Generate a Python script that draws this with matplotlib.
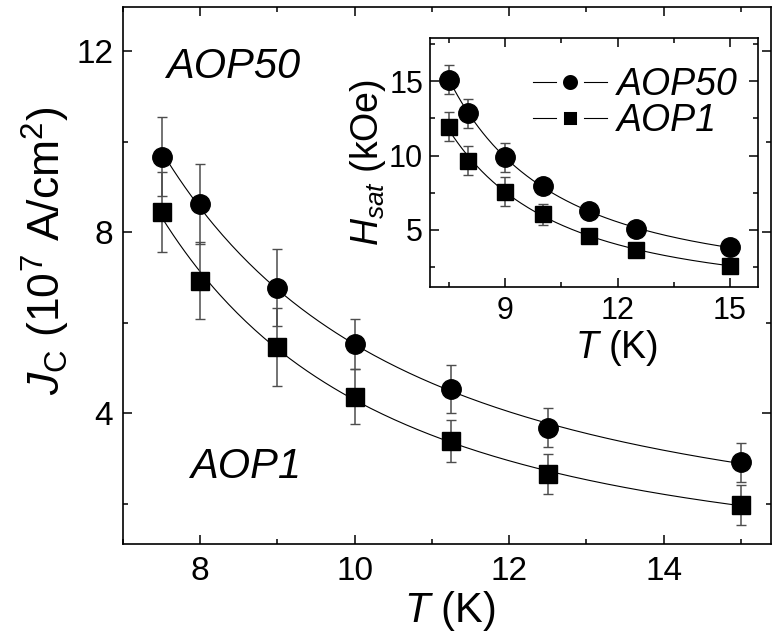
import numpy as np
import matplotlib
matplotlib.use('Agg')
import matplotlib.pyplot as plt
from matplotlib.ticker import MultipleLocator

plt.rcParams['font.family'] = ['Liberation Sans', 'DejaVu Sans']
plt.rcParams['mathtext.fontset'] = 'custom'
plt.rcParams['mathtext.rm'] = 'Liberation Sans'
plt.rcParams['mathtext.it'] = 'Liberation Sans:italic'

# --- data ---
T = [7.5, 8, 9, 10, 11.25, 12.5, 15]

# main panel: Jc (10^7 A/cm^2)
jc_aop50 = [9.67, 8.62, 6.78, 5.53, 4.54, 3.69, 2.92]
jc_aop50_err = [0.87, 0.89, 0.86, 0.55, 0.52, 0.44, 0.43]
jc_aop1 = [8.45, 6.93, 5.46, 4.37, 3.39, 2.66, 1.98]
jc_aop1_err = [0.88, 0.85, 0.86, 0.61, 0.46, 0.44, 0.44]

# inset: Hsat (kOe)
hs_aop50 = [15.1, 12.83, 9.88, 7.94, 6.3, 5.05, 3.84]
hs_aop50_err = [0.98, 0.97, 0.98, 0.3, 0.2, 0.2, 0.2]
hs_aop1 = [11.93, 9.66, 7.58, 6.04, 4.6, 3.66, 2.6]
hs_aop1_err = [0.96, 1.0, 0.97, 0.7, 0.2, 0.2, 0.2]


def smooth(x, y):
    # smooth guide line: quadratic fit in log-log space
    p = np.polyfit(np.log(x), np.log(y), 2)
    xs = np.linspace(min(x), max(x), 200)
    return xs, np.exp(np.polyval(p, np.log(xs)))


def style_axis(ax, fs, pad_x, pad_y):
    ax.tick_params(which='both', direction='in', top=True, right=True,
                   labelsize=fs, width=1.1)
    ax.tick_params(which='major', length=6.5)
    ax.tick_params(which='minor', length=3.5)
    ax.tick_params(axis='x', pad=pad_x)
    ax.tick_params(axis='y', pad=pad_y)
    for s in ax.spines.values():
        s.set_linewidth(1.2)


fig = plt.figure(figsize=(7.73, 6.41), dpi=100)
ax = fig.add_axes([0.1591, 0.1521, 0.8383, 0.8369])

errkw = dict(ecolor='#4d4d4d', elinewidth=1.1, capsize=3.6, capthick=1.0, linestyle='none')
for y, e, m, ms in [(jc_aop50, jc_aop50_err, 'o', 14), (jc_aop1, jc_aop1_err, 's', 12.5)]:
    xs, ys = smooth(T, y)
    ax.plot(xs, ys, 'k-', lw=0.8, zorder=2)
    ax.errorbar(T, y, yerr=e, fmt=m, color='k', ms=ms, zorder=3, **errkw)

ax.set_xlim(7.0, 15.39)
ax.set_ylim(1.13, 12.97)
ax.xaxis.set_major_locator(MultipleLocator(2))
ax.xaxis.set_minor_locator(MultipleLocator(1))
ax.yaxis.set_major_locator(MultipleLocator(4))
ax.yaxis.set_minor_locator(MultipleLocator(2))
style_axis(ax, 24, 9, 7)
ax.set_xlabel(r'$T$ (K)', fontsize=30)
ax.xaxis.set_label_coords(0.505, -0.085)
ax.set_ylabel(r'$J_{\rm C}$ (10$^7$ A/cm$^2$)', fontsize=32)
ax.yaxis.set_label_coords(-0.079, 0.545)

ax.text(7.56, 11.65, 'AOP50', fontsize=30, style='italic', va='center', ha='left')
ax.text(7.87, 2.82, 'AOP1', fontsize=30, style='italic', va='center', ha='left')

# --- inset ---
ins = fig.add_axes([0.5563, 0.5518, 0.4247, 0.3884])
for y, e, m, ms, lms, lmew, lab in [(hs_aop50, hs_aop50_err, 'o', 14, 15.1, 4.3, 'AOP50'),
                                    (hs_aop1, hs_aop1_err, 's', 12, 13.7, 5.0, 'AOP1')]:
    xs, ys = smooth(T, y)
    ins.plot(xs, ys, 'k-', lw=0.8, zorder=2)
    ins.errorbar(T, y, yerr=e, fmt=m, color='k', ms=ms, zorder=3, **errkw)
    ins.plot([], [], 'k-', marker=m, ms=lms, mfc='k', mec='white', mew=lmew,
             lw=0.8, label=lab)

ins.set_xlim(6.99, 15.76)
ins.set_ylim(1.15, 17.87)
ins.xaxis.set_major_locator(MultipleLocator(3))
ins.xaxis.set_minor_locator(MultipleLocator(1.5))
ins.yaxis.set_major_locator(MultipleLocator(5))
ins.yaxis.set_minor_locator(MultipleLocator(2.5))
style_axis(ins, 22, 6, 5)
ins.set_xlabel(r'$T$ (K)', fontsize=27)
ins.xaxis.set_label_coords(0.567, -0.165)
ins.set_ylabel(r'$H_{sat}$ (kOe)', fontsize=27, labelpad=1)
leg = ins.legend(loc='upper left', bbox_to_anchor=(0.314, 0.885), frameon=False,
                 handlelength=1.97, handletextpad=0.27, labelspacing=0.01,
                 borderaxespad=0, borderpad=0,
                 prop={'style': 'italic', 'size': 27})

fig.savefig('out.png', dpi=100)
